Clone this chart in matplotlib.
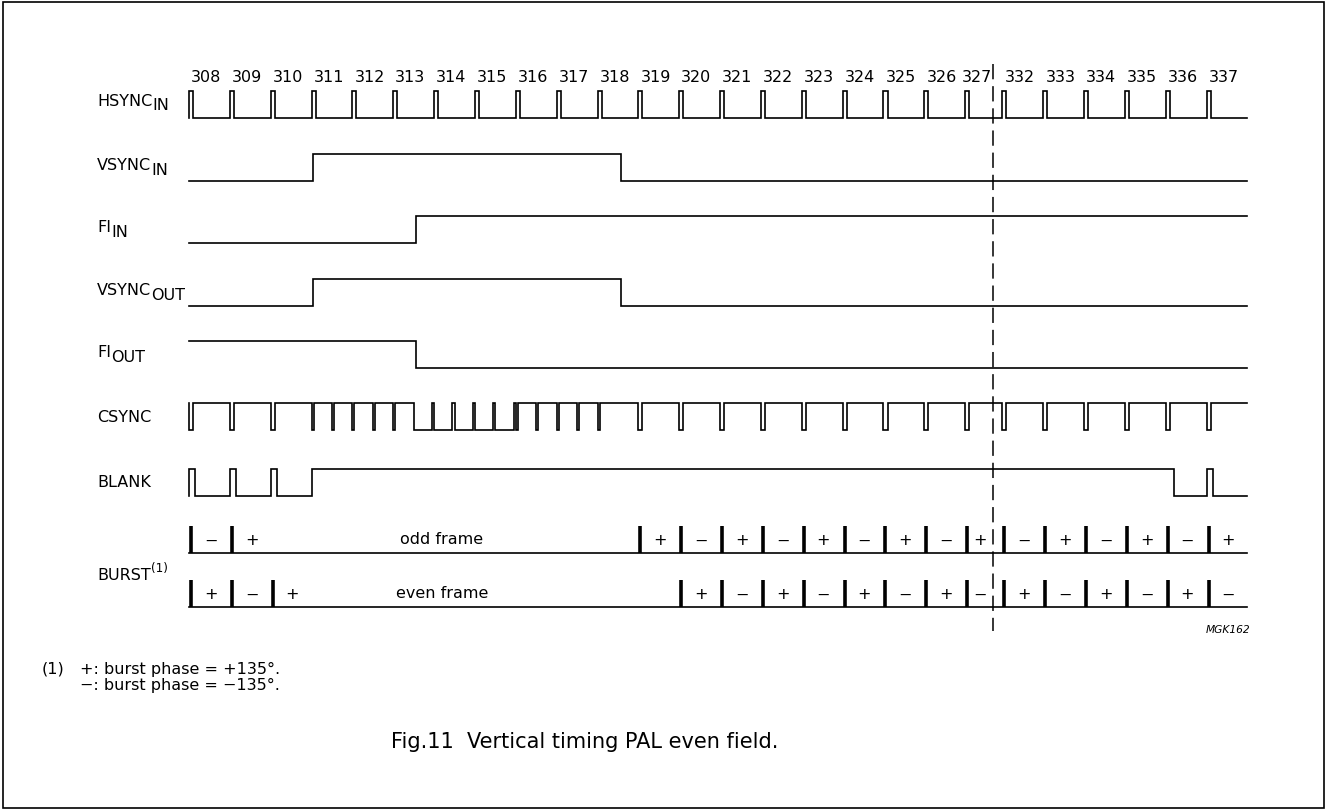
import matplotlib.pyplot as plt
from matplotlib.patches import Rectangle

plt.rcParams['font.family'] = ['DejaVu Sans']

# line numbers across the top and where each line starts (in line periods)
line_numbers = [308, 309, 310, 311, 312, 313, 314, 315, 316, 317, 318,
                319, 320, 321, 322, 323, 324, 325, 326, 327,
                332, 333, 334, 335, 336, 337]
line_starts = [0, 1, 2, 3, 4, 5, 6, 7, 8, 9, 10,
               11, 12, 13, 14, 15, 16, 17, 18, 19,
               19.91, 20.91, 21.91, 22.91, 23.91, 24.91]
trace_end = 25.91
break_at = 19.68   # the dashed cut between 327 and 332

# edges of the slow signals (time in line periods)
vsync_in_high = [(3.03, 10.57)]
fi_in_high = [(5.56, trace_end)]
vsync_out_high = [(3.03, 10.57)]
fi_out_low = [(5.56, trace_end)]
blank_high = [(0, 0.15), (1, 1.15), (2, 2.15), (3, 23.91 + 0.2), (24.91, 24.91 + 0.15)]

# csync: normal hsync, equalising and broad pulses (times in line periods)
csync_normal = [0, 1, 2, 11, 12, 13, 14, 15, 16, 17, 18, 19,
                19.91, 20.91, 21.91, 22.91, 23.91, 24.91]
csync_equal = [3, 3.5, 4, 4.5, 5, 8, 8.5, 9, 9.5, 10]
csync_broad = [5.5, 6, 6.5, 7, 7.5]

# burst phase per line, two frames
odd_lines = [308, 309, 319, 320, 321, 322, 323, 324, 325, 326, 327,
             332, 333, 334, 335, 336, 337]
odd_phase = ['−', '+', '+', '−', '+', '−', '+', '−', '+', '−', '+',
             '−', '+', '−', '+', '−', '+']
even_lines = [308, 309, 310, 320, 321, 322, 323, 324, 325, 326, 327,
              332, 333, 334, 335, 336, 337]
even_phase = ['+', '−', '+', '+', '−', '+', '−', '+', '−', '+', '−',
              '+', '−', '+', '−', '+', '−']


def square(pulses, base, active, end=trace_end):
    xs, ys = [0], [base]
    for a, b in pulses:
        xs += [a, a]
        ys += [base, active]
        if b >= end:
            xs.append(end)
            ys.append(active)
            return xs, ys
        xs += [b, b]
        ys += [active, base]
    xs.append(end)
    ys.append(base)
    return xs, ys


def seg_end(t):
    nxt = min([s for s in line_starts if s > t] + [trace_end])
    if t < break_at < nxt:
        nxt = break_at
    return nxt


W, H = 1327, 812
x0, per = 189, 40.85
fig = plt.figure(figsize=(W / 100, H / 100), dpi=100)
ax = fig.add_axes([0, 0, 1, 1])
ax.set_xlim(-x0 / per, (W - x0) / per)
ax.set_ylim(H, 0)
ax.axis('off')

lw = 1.2
amp = 27
lab_x = (97 - x0) / per
fs = 11.5

start_of = dict(zip(line_numbers, line_starts))

# line numbers
for n, s in zip(line_numbers, line_starts):
    ax.text(s + 0.42 * (seg_end(s) - s), 78, str(n), ha='center', va='center', fontsize=fs)


def row_label(y, main, sub=None, sup=None):
    t = ax.text(lab_x, y, main, ha='left', va='center', fontsize=fs)
    if sub:
        ax.annotate(sub, xy=(1, 0), xycoords=t, xytext=(0, -3.5), textcoords='offset points',
                    ha='left', va='bottom', fontsize=fs)
    if sup:
        ax.annotate(sup, xy=(1, 1), xycoords=t, xytext=(0, -5), textcoords='offset points',
                    ha='left', va='bottom', fontsize=fs * 0.75)


def draw(top, xs, ys):
    ax.plot(xs, [top + amp - v * amp for v in ys], color='black', lw=lw, solid_joinstyle='miter')


# HSYNC_IN
draw(92, *square([(s, s + 0.1) for s in line_starts], 0, 1))
row_label(101, 'HSYNC', 'IN')

draw(154.5, *square(vsync_in_high, 0, 1))
row_label(166, 'VSYNC', 'IN')

draw(217, *square(fi_in_high, 0, 1))
row_label(228, 'FI', 'IN')

draw(279.5, *square(vsync_out_high, 0, 1))
row_label(291, 'VSYNC', 'OUT')

draw(341.5, *square(fi_out_low, 1, 0))
row_label(353, 'FI', 'OUT')

# CSYNC
cs = [(s, s + 0.1) for s in csync_normal] + [(s, s + 0.05) for s in csync_equal]
cs += [(s, s + 0.5 - 0.05) for s in csync_broad]
cs.sort()
draw(404, *square(cs, 1, 0))
row_label(418, 'CSYNC')

draw(470, *square(blank_high, 0, 1))
row_label(483, 'BLANK')

# BURST rows
for base, lines, phases, name in [(554, odd_lines, odd_phase, 'odd frame'),
                                  (608, even_lines, even_phase, 'even frame')]:
    ax.plot([0, trace_end], [base, base], color='black', lw=lw)
    for n, p in zip(lines, phases):
        s = start_of[n]
        ax.plot([s + 0.05, s + 0.05], [base, base - 27], color='black', lw=2.6, solid_capstyle='butt')
        ax.text(s + 0.5 * (seg_end(s) - s) + 0.03, base - 13, p, ha='center', va='center', fontsize=fs)
    ax.text((442 - x0) / per, base - 14, name, ha='center', va='center', fontsize=fs)
row_label(576, 'BURST', sup='(1)')

# cut marker
ax.plot([break_at, break_at], [65, 632], color='black', lw=1.1, ls=(0, (10, 4.5)))

ax.text((1250 - x0) / per, 630, 'MGK162', ha='right', va='center', fontsize=7.7, style='italic')

# footnote and caption
fig.text(42 / W, 1 - 669 / H, '(1)', ha='left', va='center', fontsize=fs)
fig.text(80 / W, 1 - 669 / H, '+: burst phase = +135°.', ha='left', va='center', fontsize=fs)
fig.text(80 / W, 1 - 685 / H, '−: burst phase = −135°.', ha='left', va='center', fontsize=fs)
fig.text(585 / W, 1 - 742 / H, 'Fig.11  Vertical timing PAL even field.', ha='center', va='center',
         fontsize=15)

fig.patches.append(Rectangle((3 / W, 3 / H), 1 - 6 / W, 1 - 6 / H, transform=fig.transFigure,
                             fill=False, edgecolor='black', lw=1.2))

fig.savefig('out.png', dpi=100)
